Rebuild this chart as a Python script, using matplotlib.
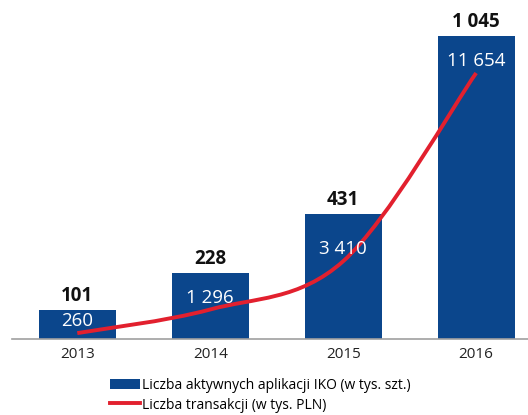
import numpy as np
import matplotlib.pyplot as plt
from matplotlib.path import Path
from matplotlib.patches import PathPatch, Patch
from matplotlib.lines import Line2D

# --- data ---
years = ['2013', '2014', '2015', '2016']
active_apps = [101, 228, 431, 1045]          # tys. szt.
transactions = [260, 1296, 3410, 11654]      # tys. PLN
app_labels = ['101', '228', '431', '1 045']
trans_labels = ['260', '1 296', '3 410', '11 654']

BLUE = '#0b468c'
RED = '#e2202e'

plt.rcParams['font.family'] = ['Open Sans', 'DejaVu Sans']

fig = plt.figure(figsize=(5.28, 4.15), dpi=100)
ax = fig.add_axes([0.023, 0.183, 0.977, 0.769])
ax2 = ax.twinx()

x = np.arange(len(years))

# --- bars ---
ax.bar(x, active_apps, width=0.58, color=BLUE, zorder=2)
for xi, v, lab in zip(x, active_apps, app_labels):
    ax.annotate(lab, (xi, v), xytext=(0, 3), textcoords='offset points',
                ha='center', va='bottom', fontsize=13.5, fontweight='bold', color='#111111')

ax.set_xlim(-0.49, 3.39)
ax.set_ylim(0, 1100)
ax.set_xticks(x)
ax.set_xticklabels(years, fontsize=11, color='#222222')
ax.tick_params(axis='x', length=0, pad=6)
ax.set_yticks([])
for s in ['top', 'right', 'left']:
    ax.spines[s].set_visible(False)
ax.spines['bottom'].set_color('#a0a0a0')
ax.spines['bottom'].set_linewidth(1.2)

# --- smoothed transaction line (Catmull-Rom -> cubic Bezier) ---
ax2.set_ylim(0, 13980)
pts = np.column_stack([x, transactions]).astype(float)
verts = [tuple(pts[0])]
codes = [Path.MOVETO]
n = len(pts)
for i in range(n - 1):
    p0 = pts[max(i - 1, 0)]
    p1 = pts[i]
    p2 = pts[i + 1]
    p3 = pts[min(i + 2, n - 1)]
    c1 = p1 + (p2 - p0) / 6.0
    c2 = p2 - (p3 - p1) / 6.0
    verts += [tuple(c1), tuple(c2), tuple(p2)]
    codes += [Path.CURVE4] * 3
ax2.add_patch(PathPatch(Path(verts, codes), facecolor='none', edgecolor=RED,
                        lw=2.8, capstyle='butt', zorder=3))
for xi, v, lab in zip(x, transactions, trans_labels):
    ax2.annotate(lab, (xi, v), xytext=(0, 2), textcoords='offset points',
                 ha='center', va='bottom', fontsize=13.5, color='white', zorder=4)
ax2.set_yticks([])
for s in ['top', 'right', 'left', 'bottom']:
    ax2.spines[s].set_visible(False)

# --- legend ---
handles = [Patch(facecolor=BLUE, edgecolor='none'),
           Line2D([0], [0], color=RED, lw=2.8)]
labels = ['Liczba aktywnych aplikacji IKO (w tys. szt.)',
          'Liczba transakcji (w tys. PLN)']
fig.legend(handles, labels, loc='upper left', bbox_to_anchor=(0.208, 0.09),
           frameon=False, fontsize=10, handlelength=2.2, handleheight=0.8,
           handletextpad=0.15, labelspacing=0.35, borderaxespad=0, borderpad=0)

fig.savefig('out.png', dpi=100)
